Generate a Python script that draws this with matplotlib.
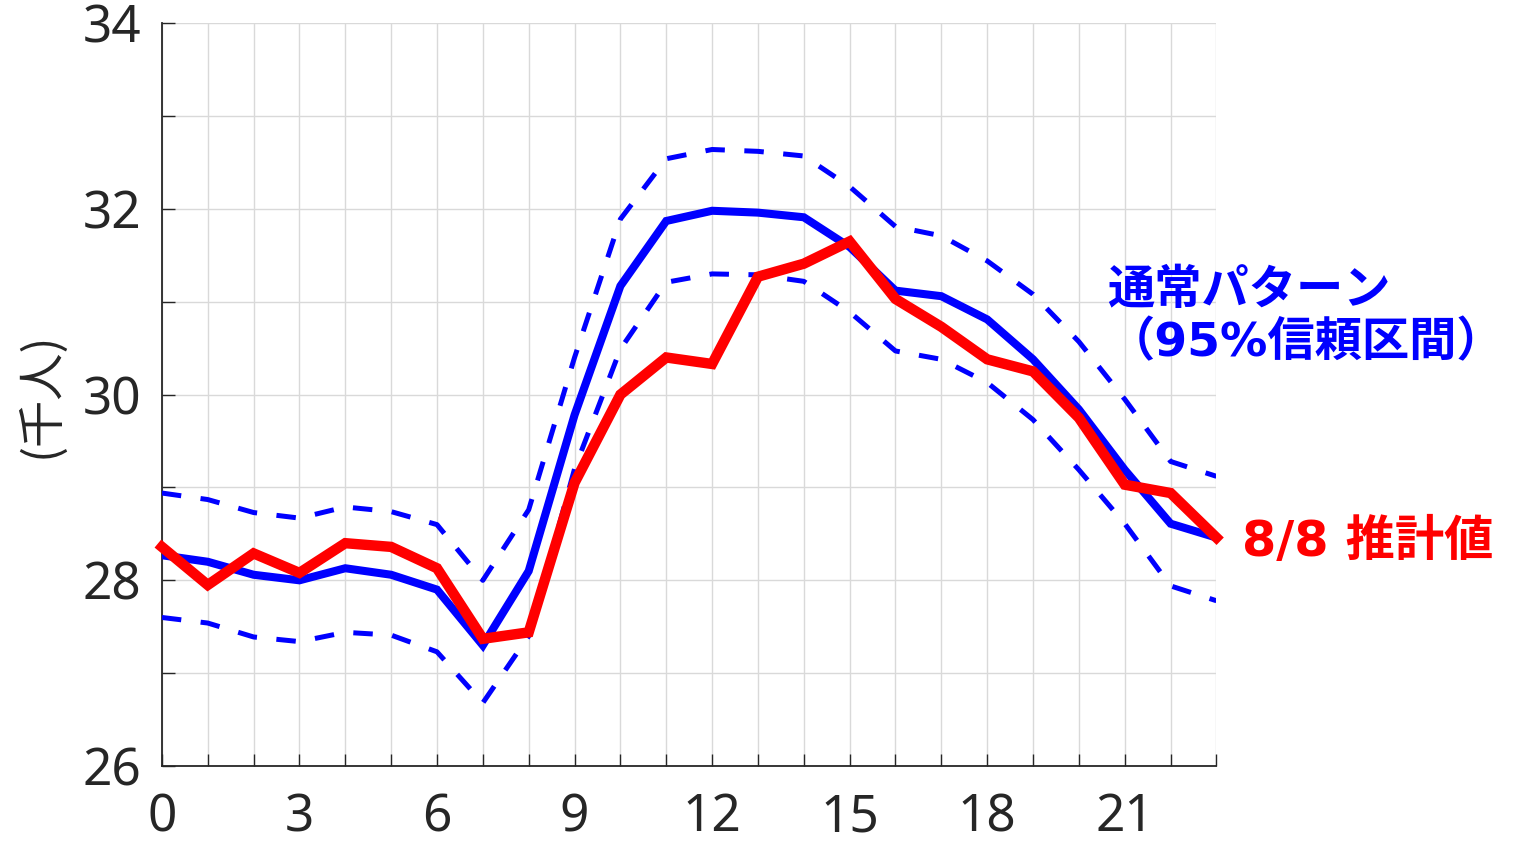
import matplotlib
matplotlib.use("Agg")
import matplotlib.pyplot as plt
from matplotlib.ticker import MultipleLocator

# hourly population (thousands)
hours = list(range(24))
normal_mean = [28.27, 28.20, 28.06, 28.00, 28.13, 28.06, 27.90, 27.30, 28.10, 29.78,
               31.17, 31.87, 31.98, 31.96, 31.91, 31.59, 31.12, 31.06, 30.81, 30.38,
               29.84, 29.19, 28.61, 28.46]
normal_upper = [28.94, 28.87, 28.73, 28.67, 28.79, 28.74, 28.60, 28.00, 28.76, 30.40,
                31.89, 32.54, 32.64, 32.62, 32.57, 32.24, 31.81, 31.71, 31.44, 31.08,
                30.57, 29.95, 29.28, 29.12]
normal_lower = [27.60, 27.54, 27.39, 27.34, 27.44, 27.41, 27.23, 26.68, 27.40, 29.20,
                30.49, 31.21, 31.30, 31.29, 31.22, 30.89, 30.47, 30.38, 30.13, 29.73,
                29.19, 28.61, 27.94, 27.78]
estimate = [28.36, 27.95, 28.29, 28.08, 28.40, 28.36, 28.13, 27.37, 27.44, 29.05,
            30.00, 30.40, 30.33, 31.27, 31.41, 31.65, 31.03, 30.73, 30.38, 30.25,
            29.75, 29.03, 28.94, 28.46]

x_ticks = [0, 3, 6, 9, 12, 15, 18, 21]
y_ticks = [26, 28, 30, 32, 34]

CJK = ["Noto Sans CJK JP", "DejaVu Sans"]
# latin glyphs from DejaVu, kana/kanji fall through to Noto CJK
LABEL_FONTS = ["DejaVu Sans", "Noto Sans CJK JP"]
AXIS_COLOR = "#262626"

fig = plt.figure(figsize=(15.13, 8.47), dpi=100)
ax = fig.add_axes([0.107, 0.0956, 0.697, 0.877])

ax.plot(hours, normal_upper, color="blue", lw=3.6, ls=(0, (3.9, 3.9)), zorder=3)
ax.plot(hours, normal_lower, color="blue", lw=3.6, ls=(0, (3.9, 3.9)), zorder=3)
ax.plot(hours, normal_mean, color="blue", lw=5.8, zorder=4, solid_joinstyle="miter")
ax.plot(hours, estimate, color="red", lw=7.5, zorder=5, solid_joinstyle="miter",
        clip_on=False)

ax.set_xlim(0, 23)
ax.set_ylim(26, 34)
ax.set_xticks(x_ticks)
ax.set_yticks(y_ticks)
ax.xaxis.set_minor_locator(MultipleLocator(1))
ax.yaxis.set_minor_locator(MultipleLocator(1))
ax.grid(which="both", color="#d9d9d9", lw=1.0, zorder=0)

for side in ("top", "right"):
    ax.spines[side].set_visible(False)
for side in ("left", "bottom"):
    ax.spines[side].set_color(AXIS_COLOR)
    ax.spines[side].set_linewidth(1.3)

ax.tick_params(which="both", direction="in", color=AXIS_COLOR, width=1.0, length=9)
ax.tick_params(axis="y", which="major", pad=15)
ax.tick_params(axis="x", which="major", pad=19)
for lbl in ax.get_xticklabels() + ax.get_yticklabels():
    lbl.set_fontfamily("Noto Sans")
    lbl.set_fontsize(37)
    lbl.set_color(AXIS_COLOR)

ax.set_ylabel("(千人)", family=CJK, fontsize=34, color=AXIS_COLOR, labelpad=12)

fig.text(0.732, 0.625, "通常パターン\n（95%信頼区間）", family=LABEL_FONTS, fontsize=34,
         fontweight="bold", color="blue", ha="left", va="center", linespacing=1.18)
fig.text(0.821, 0.360, "8/8 推計値", family=LABEL_FONTS, fontsize=35.5,
         fontweight="bold", color="red", ha="left", va="center")

fig.savefig("out.png", dpi=100, facecolor="white")
